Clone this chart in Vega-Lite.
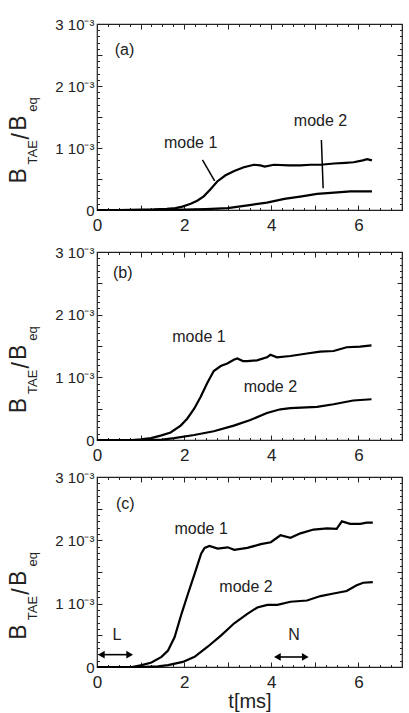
{
  "$schema": "https://vega.github.io/schema/vega-lite/v6.json",
  "padding": {"left": 6, "top": 16, "right": 6, "bottom": 2},
  "config": {
    "font": "Liberation Sans",
    "view": {"stroke": "#222", "strokeWidth": 1.2},
    "axis": {"domain": false, "grid": false, "tickColor": "#222", "tickWidth": 1, "labelColor": "#222", "labelFlush": false, "labelOverlap": false, "titleColor": "#222", "titleFontWeight": "normal"},
    "text": {"color": "#222"}
  },
  "datasets": {
    "curves": [
      {"panel":"a","mode":"mode 1","t":0,"b":0},{"panel":"a","mode":"mode 1","t":0.5,"b":0},{"panel":"a","mode":"mode 1","t":1.0,"b":0.000005},{"panel":"a","mode":"mode 1","t":1.3,"b":0.00001},{"panel":"a","mode":"mode 1","t":1.6,"b":0.00002},{"panel":"a","mode":"mode 1","t":1.8,"b":0.00003},{"panel":"a","mode":"mode 1","t":1.96,"b":0.000054},{"panel":"a","mode":"mode 1","t":2.15,"b":0.0001},{"panel":"a","mode":"mode 1","t":2.3,"b":0.00015},{"panel":"a","mode":"mode 1","t":2.45,"b":0.00022},{"panel":"a","mode":"mode 1","t":2.6,"b":0.00033},{"panel":"a","mode":"mode 1","t":2.76,"b":0.00046},{"panel":"a","mode":"mode 1","t":2.95,"b":0.00056},{"panel":"a","mode":"mode 1","t":3.15,"b":0.00063},{"panel":"a","mode":"mode 1","t":3.37,"b":0.00069},{"panel":"a","mode":"mode 1","t":3.6,"b":0.00073},{"panel":"a","mode":"mode 1","t":3.75,"b":0.00072},{"panel":"a","mode":"mode 1","t":3.85,"b":0.0007},{"panel":"a","mode":"mode 1","t":4.06,"b":0.00073},{"panel":"a","mode":"mode 1","t":4.4,"b":0.00072},{"panel":"a","mode":"mode 1","t":4.67,"b":0.00072},{"panel":"a","mode":"mode 1","t":4.9,"b":0.00073},{"panel":"a","mode":"mode 1","t":5.13,"b":0.00073},{"panel":"a","mode":"mode 1","t":5.44,"b":0.00075},{"panel":"a","mode":"mode 1","t":5.7,"b":0.00076},{"panel":"a","mode":"mode 1","t":5.89,"b":0.00077},{"panel":"a","mode":"mode 1","t":6.1,"b":0.0008},{"panel":"a","mode":"mode 1","t":6.2,"b":0.00082},{"panel":"a","mode":"mode 1","t":6.31,"b":0.0008},
      {"panel":"a","mode":"mode 2","t":0,"b":0},{"panel":"a","mode":"mode 2","t":1,"b":0},{"panel":"a","mode":"mode 2","t":2,"b":0.000005},{"panel":"a","mode":"mode 2","t":2.5,"b":0.000015},{"panel":"a","mode":"mode 2","t":3.0,"b":0.00003},{"panel":"a","mode":"mode 2","t":3.5,"b":0.00008},{"panel":"a","mode":"mode 2","t":3.9,"b":0.00012},{"panel":"a","mode":"mode 2","t":4.3,"b":0.00018},{"panel":"a","mode":"mode 2","t":4.7,"b":0.00022},{"panel":"a","mode":"mode 2","t":5.05,"b":0.00026},{"panel":"a","mode":"mode 2","t":5.44,"b":0.00028},{"panel":"a","mode":"mode 2","t":5.82,"b":0.0003},{"panel":"a","mode":"mode 2","t":6.31,"b":0.0003},
      {"panel":"b","mode":"mode 1","t":0,"b":0},{"panel":"b","mode":"mode 1","t":0.8,"b":0},{"panel":"b","mode":"mode 1","t":1.0,"b":0.00001},{"panel":"b","mode":"mode 1","t":1.24,"b":0.00003},{"panel":"b","mode":"mode 1","t":1.46,"b":0.00007},{"panel":"b","mode":"mode 1","t":1.69,"b":0.00012},{"panel":"b","mode":"mode 1","t":1.92,"b":0.00023},{"panel":"b","mode":"mode 1","t":2.07,"b":0.00034},{"panel":"b","mode":"mode 1","t":2.23,"b":0.0005},{"panel":"b","mode":"mode 1","t":2.38,"b":0.00069},{"panel":"b","mode":"mode 1","t":2.53,"b":0.00091},{"panel":"b","mode":"mode 1","t":2.68,"b":0.0011},{"panel":"b","mode":"mode 1","t":2.84,"b":0.00118},{"panel":"b","mode":"mode 1","t":2.99,"b":0.00122},{"panel":"b","mode":"mode 1","t":3.14,"b":0.00128},{"panel":"b","mode":"mode 1","t":3.22,"b":0.0013},{"panel":"b","mode":"mode 1","t":3.35,"b":0.00126},{"panel":"b","mode":"mode 1","t":3.45,"b":0.00126},{"panel":"b","mode":"mode 1","t":3.67,"b":0.00127},{"panel":"b","mode":"mode 1","t":3.9,"b":0.00132},{"panel":"b","mode":"mode 1","t":3.98,"b":0.00136},{"panel":"b","mode":"mode 1","t":4.13,"b":0.00132},{"panel":"b","mode":"mode 1","t":4.44,"b":0.00134},{"panel":"b","mode":"mode 1","t":4.82,"b":0.00138},{"panel":"b","mode":"mode 1","t":5.12,"b":0.00141},{"panel":"b","mode":"mode 1","t":5.43,"b":0.00142},{"panel":"b","mode":"mode 1","t":5.73,"b":0.00148},{"panel":"b","mode":"mode 1","t":6.04,"b":0.00149},{"panel":"b","mode":"mode 1","t":6.3,"b":0.00151},
      {"panel":"b","mode":"mode 2","t":0,"b":0},{"panel":"b","mode":"mode 2","t":1,"b":0},{"panel":"b","mode":"mode 2","t":1.5,"b":0.000005},{"panel":"b","mode":"mode 2","t":1.77,"b":0.00003},{"panel":"b","mode":"mode 2","t":2.23,"b":0.00008},{"panel":"b","mode":"mode 2","t":2.68,"b":0.00014},{"panel":"b","mode":"mode 2","t":3.14,"b":0.00023},{"panel":"b","mode":"mode 2","t":3.52,"b":0.00032},{"panel":"b","mode":"mode 2","t":3.9,"b":0.00043},{"panel":"b","mode":"mode 2","t":4.21,"b":0.00049},{"panel":"b","mode":"mode 2","t":4.44,"b":0.00051},{"panel":"b","mode":"mode 2","t":5.05,"b":0.00053},{"panel":"b","mode":"mode 2","t":5.43,"b":0.00057},{"panel":"b","mode":"mode 2","t":5.88,"b":0.00063},{"panel":"b","mode":"mode 2","t":6.3,"b":0.00065},
      {"panel":"c","mode":"mode 1","t":0,"b":0},{"panel":"c","mode":"mode 1","t":0.8,"b":0},{"panel":"c","mode":"mode 1","t":1.03,"b":0.00003},{"panel":"c","mode":"mode 1","t":1.25,"b":0.00007},{"panel":"c","mode":"mode 1","t":1.48,"b":0.00016},{"panel":"c","mode":"mode 1","t":1.63,"b":0.00026},{"panel":"c","mode":"mode 1","t":1.78,"b":0.00047},{"panel":"c","mode":"mode 1","t":1.94,"b":0.00084},{"panel":"c","mode":"mode 1","t":2.09,"b":0.00116},{"panel":"c","mode":"mode 1","t":2.24,"b":0.00147},{"panel":"c","mode":"mode 1","t":2.39,"b":0.00179},{"panel":"c","mode":"mode 1","t":2.47,"b":0.00188},{"panel":"c","mode":"mode 1","t":2.58,"b":0.00191},{"panel":"c","mode":"mode 1","t":2.77,"b":0.00187},{"panel":"c","mode":"mode 1","t":3.0,"b":0.00189},{"panel":"c","mode":"mode 1","t":3.15,"b":0.00185},{"panel":"c","mode":"mode 1","t":3.45,"b":0.00188},{"panel":"c","mode":"mode 1","t":3.76,"b":0.00194},{"panel":"c","mode":"mode 1","t":3.99,"b":0.00197},{"panel":"c","mode":"mode 1","t":4.21,"b":0.00208},{"panel":"c","mode":"mode 1","t":4.44,"b":0.00204},{"panel":"c","mode":"mode 1","t":4.67,"b":0.00211},{"panel":"c","mode":"mode 1","t":4.97,"b":0.00217},{"panel":"c","mode":"mode 1","t":5.28,"b":0.00219},{"panel":"c","mode":"mode 1","t":5.5,"b":0.00218},{"panel":"c","mode":"mode 1","t":5.62,"b":0.0023},{"panel":"c","mode":"mode 1","t":5.81,"b":0.00226},{"panel":"c","mode":"mode 1","t":6.04,"b":0.00226},{"panel":"c","mode":"mode 1","t":6.19,"b":0.00228},{"panel":"c","mode":"mode 1","t":6.33,"b":0.00228},
      {"panel":"c","mode":"mode 2","t":0,"b":0},{"panel":"c","mode":"mode 2","t":1.0,"b":0},{"panel":"c","mode":"mode 2","t":1.4,"b":0.00001},{"panel":"c","mode":"mode 2","t":1.63,"b":0.00003},{"panel":"c","mode":"mode 2","t":1.97,"b":0.00008},{"panel":"c","mode":"mode 2","t":2.24,"b":0.00016},{"panel":"c","mode":"mode 2","t":2.54,"b":0.00032},{"panel":"c","mode":"mode 2","t":2.85,"b":0.0005},{"panel":"c","mode":"mode 2","t":3.15,"b":0.00069},{"panel":"c","mode":"mode 2","t":3.45,"b":0.00084},{"panel":"c","mode":"mode 2","t":3.68,"b":0.00094},{"panel":"c","mode":"mode 2","t":3.91,"b":0.00098},{"panel":"c","mode":"mode 2","t":4.14,"b":0.00098},{"panel":"c","mode":"mode 2","t":4.44,"b":0.00103},{"panel":"c","mode":"mode 2","t":4.82,"b":0.00105},{"panel":"c","mode":"mode 2","t":5.13,"b":0.00112},{"panel":"c","mode":"mode 2","t":5.43,"b":0.00116},{"panel":"c","mode":"mode 2","t":5.73,"b":0.0012},{"panel":"c","mode":"mode 2","t":5.96,"b":0.00129},{"panel":"c","mode":"mode 2","t":6.11,"b":0.00133},{"panel":"c","mode":"mode 2","t":6.33,"b":0.00134}
    ],
    "labels": [
      {"panel":"a","text":"(a)","t":0.63,"b":0.00258},{"panel":"a","text":"mode 1","t":2.15,"b":0.001075},{"panel":"a","text":"mode 2","t":5.13,"b":0.00144},
      {"panel":"b","text":"(b)","t":0.59,"b":0.00266},{"panel":"b","text":"mode 1","t":2.34,"b":0.00165},{"panel":"b","text":"mode 2","t":3.98,"b":0.00084},
      {"panel":"c","text":"(c)","t":0.65,"b":0.00258},{"panel":"c","text":"mode 1","t":2.39,"b":0.00218},{"panel":"c","text":"mode 2","t":3.42,"b":0.00127},{"panel":"c","text":"L","t":0.46,"b":0.0005},{"panel":"c","text":"N","t":4.52,"b":0.0005}
    ],
    "pointers": [
      {"t":2.42,"b":0.00081,"t2":2.7,"b2":0.00047},
      {"t":5.15,"b":0.00113,"t2":5.19,"b2":0.00035}
    ],
    "arrows": [
      {"label":"L","t1":0.1,"t2":0.75,"b":0.000195},
      {"label":"N","t1":4.14,"t2":4.78,"b":0.000158}
    ],
    "ytitle": [
      {"part":"B","kind":"main","t":-1.8,"b":0.00055},
      {"part":"TAE","kind":"sub","t":-1.46,"b":0.00093},
      {"part":"/","kind":"main","t":-1.72,"b":0.00119},
      {"part":"B","kind":"main","t":-1.8,"b":0.0014},
      {"part":"eq","kind":"sub","t":-1.46,"b":0.0017}
    ]
  },
  "bounds": "flush",
  "spacing": 42,
  "vconcat": [
    {
      "width": 305, "height": 186,
      "resolve": {"axis": {"x": "independent", "y": "independent"}},
      "layer": [
        {
          "data": {"name": "curves"},
          "transform": [{"filter": "datum.panel === 'a'"}],
          "mark": {"type": "line", "color": "black", "strokeWidth": 2.2},
          "encoding": {
            "x": {"field": "t", "type": "quantitative", "scale": {"domain": [0, 7], "nice": false, "zero": false},
              "axis": {"orient": "bottom", "values": [0,1,2,3,4,5,6,7], "tickSize": -5, "labelExpr": "datum.value % 2 === 0 && datum.value < 7 ? datum.label : ''", "labelFontSize": 17, "labelPadding": 12, "title": null}},
            "y": {"field": "b", "type": "quantitative", "scale": {"domain": [0, 0.003], "nice": false, "zero": false},
              "axis": {"orient": "left", "values": [0,0.0005,0.001,0.0015,0.002,0.0025,0.003], "tickSize": -5, "labelExpr": "datum.value === 0 ? '0' : (abs(datum.value*1000 - round(datum.value*1000)) < 0.000001 ? format(round(datum.value*1000), 'd') + '  10⁻³' : '')", "labelFontSize": 15, "labelPadding": 8, "title": null}},
            "detail": {"field": "mode"}
          }
        },
        {
          "data": {"name": "labels"},
          "transform": [{"filter": "datum.panel === 'a'"}],
          "mark": {"type": "text", "fontSize": 16},
          "encoding": {
            "x": {"field": "t", "type": "quantitative", "scale": {"domain": [0, 7]}, "axis": {"orient": "top", "values": [0,1,2,3,4,5,6,7], "tickSize": -5, "labels": false, "title": null}},
            "y": {"field": "b", "type": "quantitative", "scale": {"domain": [0, 0.003]}, "axis": {"orient": "right", "values": [0,0.0005,0.001,0.0015,0.002,0.0025,0.003], "tickSize": -5, "labels": false, "title": null}},
            "text": {"field": "text"}
          }
        },
        {
          "data": {"name": "ytitle"},
          "transform": [{"filter": "datum.kind === 'main'"}],
          "mark": {"type": "text", "fontSize": 23, "angle": 270, "baseline": "middle"},
          "encoding": {
            "x": {"field": "t", "type": "quantitative", "scale": {"domain": [0, 7]}, "axis": {"orient": "bottom", "values": [0,0.25,0.5,0.75,1,1.25,1.5,1.75,2,2.25,2.5,2.75,3,3.25,3.5,3.75,4,4.25,4.5,4.75,5,5.25,5.5,5.75,6,6.25,6.5,6.75,7], "tickSize": -2.5, "labels": false, "title": null}},
            "y": {"field": "b", "type": "quantitative", "scale": {"domain": [0, 0.003]}, "axis": {"orient": "left", "values": [0,0.0001,0.0002,0.0003,0.0004,0.0005,0.0006,0.0007,0.0008,0.0009,0.001,0.0011,0.0012,0.0013,0.0014,0.0015,0.0016,0.0017,0.0018,0.0019,0.002,0.0021,0.0022,0.0023,0.0024,0.0025,0.0026,0.0027,0.0028,0.0029,0.003], "tickSize": -2.5, "labels": false, "title": null}},
            "text": {"field": "part"}
          }
        },
        {
          "data": {"name": "ytitle"},
          "transform": [{"filter": "datum.kind === 'sub'"}],
          "mark": {"type": "text", "fontSize": 13, "angle": 270, "baseline": "middle"},
          "encoding": {
            "x": {"field": "t", "type": "quantitative", "scale": {"domain": [0, 7]}, "axis": {"orient": "top", "values": [0,0.25,0.5,0.75,1,1.25,1.5,1.75,2,2.25,2.5,2.75,3,3.25,3.5,3.75,4,4.25,4.5,4.75,5,5.25,5.5,5.75,6,6.25,6.5,6.75,7], "tickSize": -2.5, "labels": false, "title": null}},
            "y": {"field": "b", "type": "quantitative", "scale": {"domain": [0, 0.003]}, "axis": {"orient": "right", "values": [0,0.0001,0.0002,0.0003,0.0004,0.0005,0.0006,0.0007,0.0008,0.0009,0.001,0.0011,0.0012,0.0013,0.0014,0.0015,0.0016,0.0017,0.0018,0.0019,0.002,0.0021,0.0022,0.0023,0.0024,0.0025,0.0026,0.0027,0.0028,0.0029,0.003], "tickSize": -2.5, "labels": false, "title": null}},
            "text": {"field": "part"}
          }
        },
        {
          "data": {"name": "pointers"},
          "mark": {"type": "rule", "color": "black", "strokeWidth": 1.5},
          "encoding": {
            "x": {"field": "t", "type": "quantitative", "scale": {"domain": [0, 7]}, "axis": null},
            "y": {"field": "b", "type": "quantitative", "scale": {"domain": [0, 0.003]}, "axis": null},
            "x2": {"field": "t2"},
            "y2": {"field": "b2"}
          }
        }
      ]
    },
    {
      "bounds": "flush",
      "spacing": 37,
      "vconcat": [
        {
          "width": 305, "height": 188,
          "resolve": {"axis": {"x": "independent", "y": "independent"}},
          "layer": [
            {
              "data": {"name": "curves"},
              "transform": [{"filter": "datum.panel === 'b'"}],
              "mark": {"type": "line", "color": "black", "strokeWidth": 2.2},
              "encoding": {
                "x": {"field": "t", "type": "quantitative", "scale": {"domain": [0, 7], "nice": false, "zero": false},
                  "axis": {"orient": "bottom", "values": [0,1,2,3,4,5,6,7], "tickSize": -5, "labelExpr": "datum.value % 2 === 0 && datum.value < 7 ? datum.label : ''", "labelFontSize": 17, "labelPadding": 12, "title": null}},
                "y": {"field": "b", "type": "quantitative", "scale": {"domain": [0, 0.003], "nice": false, "zero": false},
                  "axis": {"orient": "left", "values": [0,0.0005,0.001,0.0015,0.002,0.0025,0.003], "tickSize": -5, "labelExpr": "datum.value === 0 ? '0' : (abs(datum.value*1000 - round(datum.value*1000)) < 0.000001 ? format(round(datum.value*1000), 'd') + '  10⁻³' : '')", "labelFontSize": 15, "labelPadding": 8, "title": null}},
                "detail": {"field": "mode"}
              }
            },
            {
              "data": {"name": "labels"},
              "transform": [{"filter": "datum.panel === 'b'"}],
              "mark": {"type": "text", "fontSize": 16},
              "encoding": {
                "x": {"field": "t", "type": "quantitative", "scale": {"domain": [0, 7]}, "axis": {"orient": "top", "values": [0,1,2,3,4,5,6,7], "tickSize": -5, "labels": false, "title": null}},
                "y": {"field": "b", "type": "quantitative", "scale": {"domain": [0, 0.003]}, "axis": {"orient": "right", "values": [0,0.0005,0.001,0.0015,0.002,0.0025,0.003], "tickSize": -5, "labels": false, "title": null}},
                "text": {"field": "text"}
              }
            },
            {
              "data": {"name": "ytitle"},
              "transform": [{"filter": "datum.kind === 'main'"}],
              "mark": {"type": "text", "fontSize": 23, "angle": 270, "baseline": "middle"},
              "encoding": {
                "x": {"field": "t", "type": "quantitative", "scale": {"domain": [0, 7]}, "axis": {"orient": "bottom", "values": [0,0.25,0.5,0.75,1,1.25,1.5,1.75,2,2.25,2.5,2.75,3,3.25,3.5,3.75,4,4.25,4.5,4.75,5,5.25,5.5,5.75,6,6.25,6.5,6.75,7], "tickSize": -2.5, "labels": false, "title": null}},
                "y": {"field": "b", "type": "quantitative", "scale": {"domain": [0, 0.003]}, "axis": {"orient": "left", "values": [0,0.0001,0.0002,0.0003,0.0004,0.0005,0.0006,0.0007,0.0008,0.0009,0.001,0.0011,0.0012,0.0013,0.0014,0.0015,0.0016,0.0017,0.0018,0.0019,0.002,0.0021,0.0022,0.0023,0.0024,0.0025,0.0026,0.0027,0.0028,0.0029,0.003], "tickSize": -2.5, "labels": false, "title": null}},
                "text": {"field": "part"}
              }
            },
            {
              "data": {"name": "ytitle"},
              "transform": [{"filter": "datum.kind === 'sub'"}],
              "mark": {"type": "text", "fontSize": 13, "angle": 270, "baseline": "middle"},
              "encoding": {
                "x": {"field": "t", "type": "quantitative", "scale": {"domain": [0, 7]}, "axis": {"orient": "top", "values": [0,0.25,0.5,0.75,1,1.25,1.5,1.75,2,2.25,2.5,2.75,3,3.25,3.5,3.75,4,4.25,4.5,4.75,5,5.25,5.5,5.75,6,6.25,6.5,6.75,7], "tickSize": -2.5, "labels": false, "title": null}},
                "y": {"field": "b", "type": "quantitative", "scale": {"domain": [0, 0.003]}, "axis": {"orient": "right", "values": [0,0.0001,0.0002,0.0003,0.0004,0.0005,0.0006,0.0007,0.0008,0.0009,0.001,0.0011,0.0012,0.0013,0.0014,0.0015,0.0016,0.0017,0.0018,0.0019,0.002,0.0021,0.0022,0.0023,0.0024,0.0025,0.0026,0.0027,0.0028,0.0029,0.003], "tickSize": -2.5, "labels": false, "title": null}},
                "text": {"field": "part"}
              }
            }
          ]
        },
        {
          "width": 305, "height": 190,
          "resolve": {"axis": {"x": "independent", "y": "independent"}},
          "layer": [
            {
              "data": {"name": "curves"},
              "transform": [{"filter": "datum.panel === 'c'"}],
              "mark": {"type": "line", "color": "black", "strokeWidth": 2.2},
              "encoding": {
                "x": {"field": "t", "type": "quantitative", "scale": {"domain": [0, 7], "nice": false, "zero": false},
                  "axis": {"orient": "bottom", "values": [0,1,2,3,4,5,6,7], "tickSize": -5, "labelExpr": "datum.value % 2 === 0 && datum.value < 7 ? datum.label : ''", "labelFontSize": 17, "labelPadding": 12, "title": "t[ms]", "titleFontSize": 20, "titlePadding": 1}},
                "y": {"field": "b", "type": "quantitative", "scale": {"domain": [0, 0.003], "nice": false, "zero": false},
                  "axis": {"orient": "left", "values": [0,0.0005,0.001,0.0015,0.002,0.0025,0.003], "tickSize": -5, "labelExpr": "datum.value === 0 ? '0' : (abs(datum.value*1000 - round(datum.value*1000)) < 0.000001 ? format(round(datum.value*1000), 'd') + '  10⁻³' : '')", "labelFontSize": 15, "labelPadding": 8, "title": null}},
                "detail": {"field": "mode"}
              }
            },
            {
              "data": {"name": "labels"},
              "transform": [{"filter": "datum.panel === 'c'"}],
              "mark": {"type": "text", "fontSize": 16},
              "encoding": {
                "x": {"field": "t", "type": "quantitative", "scale": {"domain": [0, 7]}, "axis": {"orient": "top", "values": [0,1,2,3,4,5,6,7], "tickSize": -5, "labels": false, "title": null}},
                "y": {"field": "b", "type": "quantitative", "scale": {"domain": [0, 0.003]}, "axis": {"orient": "right", "values": [0,0.0005,0.001,0.0015,0.002,0.0025,0.003], "tickSize": -5, "labels": false, "title": null}},
                "text": {"field": "text"}
              }
            },
            {
              "data": {"name": "ytitle"},
              "transform": [{"filter": "datum.kind === 'main'"}],
              "mark": {"type": "text", "fontSize": 23, "angle": 270, "baseline": "middle"},
              "encoding": {
                "x": {"field": "t", "type": "quantitative", "scale": {"domain": [0, 7]}, "axis": {"orient": "bottom", "values": [0,0.25,0.5,0.75,1,1.25,1.5,1.75,2,2.25,2.5,2.75,3,3.25,3.5,3.75,4,4.25,4.5,4.75,5,5.25,5.5,5.75,6,6.25,6.5,6.75,7], "tickSize": -2.5, "labels": false, "title": null}},
                "y": {"field": "b", "type": "quantitative", "scale": {"domain": [0, 0.003]}, "axis": {"orient": "left", "values": [0,0.0001,0.0002,0.0003,0.0004,0.0005,0.0006,0.0007,0.0008,0.0009,0.001,0.0011,0.0012,0.0013,0.0014,0.0015,0.0016,0.0017,0.0018,0.0019,0.002,0.0021,0.0022,0.0023,0.0024,0.0025,0.0026,0.0027,0.0028,0.0029,0.003], "tickSize": -2.5, "labels": false, "title": null}},
                "text": {"field": "part"}
              }
            },
            {
              "data": {"name": "ytitle"},
              "transform": [{"filter": "datum.kind === 'sub'"}],
              "mark": {"type": "text", "fontSize": 13, "angle": 270, "baseline": "middle"},
              "encoding": {
                "x": {"field": "t", "type": "quantitative", "scale": {"domain": [0, 7]}, "axis": {"orient": "top", "values": [0,0.25,0.5,0.75,1,1.25,1.5,1.75,2,2.25,2.5,2.75,3,3.25,3.5,3.75,4,4.25,4.5,4.75,5,5.25,5.5,5.75,6,6.25,6.5,6.75,7], "tickSize": -2.5, "labels": false, "title": null}},
                "y": {"field": "b", "type": "quantitative", "scale": {"domain": [0, 0.003]}, "axis": {"orient": "right", "values": [0,0.0001,0.0002,0.0003,0.0004,0.0005,0.0006,0.0007,0.0008,0.0009,0.001,0.0011,0.0012,0.0013,0.0014,0.0015,0.0016,0.0017,0.0018,0.0019,0.002,0.0021,0.0022,0.0023,0.0024,0.0025,0.0026,0.0027,0.0028,0.0029,0.003], "tickSize": -2.5, "labels": false, "title": null}},
                "text": {"field": "part"}
              }
            },
            {
              "data": {"name": "arrows"},
              "mark": {"type": "rule", "color": "black", "strokeWidth": 1.6},
              "encoding": {
                "x": {"field": "t1", "type": "quantitative", "scale": {"domain": [0, 7]}, "axis": null},
                "x2": {"field": "t2"},
                "y": {"field": "b", "type": "quantitative", "scale": {"domain": [0, 0.003]}, "axis": null}
              }
            },
            {
              "data": {"name": "arrows"},
              "transform": [{"fold": ["t1", "t2"], "as": ["end", "t"]}],
              "mark": {"type": "point", "filled": true, "color": "black", "opacity": 1, "size": 60},
              "encoding": {
                "x": {"field": "t", "type": "quantitative", "scale": {"domain": [0, 7]}, "axis": null},
                "y": {"field": "b", "type": "quantitative", "scale": {"domain": [0, 0.003]}, "axis": null},
                "shape": {"field": "end", "type": "nominal", "scale": {"domain": ["t1", "t2"], "range": ["triangle-left", "triangle-right"]}, "legend": null}
              }
            }
          ]
        }
      ]
    }
  ]
}
